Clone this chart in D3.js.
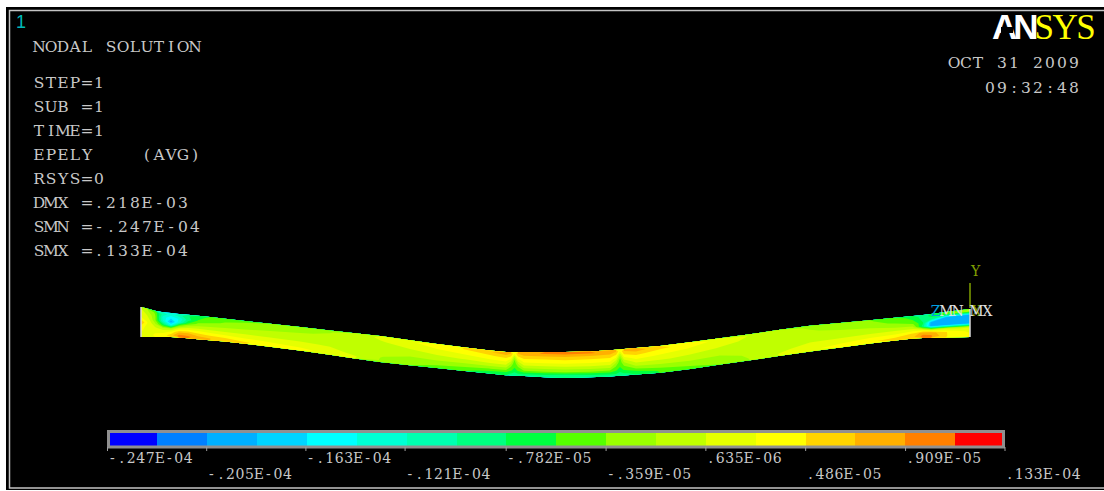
<!DOCTYPE html>
<html>
<head>
<meta charset="utf-8">
<script src="https://cdn.jsdelivr.net/npm/d3@7"></script>
<style>
  html, body { margin: 0; padding: 0; background: #fff; }
  svg { display: block; }
  text { white-space: pre; font-family: "DejaVu Serif", serif; }
</style>
</head>
<body>
<div id="chart"></div>
<script>
// legend values, in strain
var tickValues = [-.247e-4, -.205e-4, -.163e-4, -.121e-4, -.782e-5, -.359e-5, .635e-6, .486e-5, .909e-5, .133e-4];
var tickLabels = ["-.247E-04", "-.205E-04", "-.163E-04", "-.121E-04", "-.782E-05", "-.359E-05", ".635E-06", ".486E-05", ".909E-05", ".133E-04"];
var bandColors = ["#0000ff", "#0080ff", "#00b0ff", "#00d4ff", "#00ffff", "#00ffd4", "#00ffb0", "#00ff80", "#00ff40",
                  "#55ff00", "#9aff00", "#c0ff00", "#e6ff00", "#ffff00", "#ffd400", "#ffb000", "#ff8000", "#ff0000"];

var infoLines = ["STEP=1", "SUB =1", "TIME=1", "EPELY    (AVG)", "RSYS=0", "DMX =.218E-03", "SMN =-.247E-04", "SMX =.133E-04"];

// beam outline, model units along the span and above the left support
var topX = [0, 19, 59, 122, 179, 239, 296, 362, 429, 462, 529, 596, 666, 732, 782, 829];
var topY = [30, 25, 21, 14, 7.7, 1, -7, -15, -15, -14, -8, 1, 11, 17, 22, 28];
var botX = [0, 32, 89, 156, 239, 296, 362, 419, 462, 529, 596, 666, 732, 776, 829];
var botY = [0, 0, -5, -13, -25, -31, -38, -41, -40, -35, -25, -15, -6, -1, 0];

// strain (E-05) read at each station, top fibre to bottom fibre
var stations = [0, 6, 14, 22, 30, 38, 47, 57, 69, 84, 104, 129, 159, 189, 214, 239, 269, 296, 324, 349, 365,
                370, 373.5, 377, 383, 404, 424, 449, 469, 475, 479, 483, 495, 519, 549, 579, 609, 639, 669, 699,
                729, 754, 772, 782, 790, 805, 819, 829];
var strain = [
  [.1, .2, .3, .75, .4, .3, .2],
  [-.1, .05, .2, .3, .2, .2, .2],
  [-.4, -.3, -.3, -.1, .1, .25, .3],
  [-1.1, -1.3, -1.2, -.7, -.1, .2, .4],
  [-1.3, -1.6, -1.95, -1.4, -.2, .3, .6],
  [-1.1, -1.4, -1.3, -.4, .2, .7, 1.0],
  [-.8, -.9, -.6, -.1, .3, .7, .95],
  [-.65, -.55, -.3, -.05, .25, .55, .8],
  [-.5, -.42, -.25, -.05, .2, .45, .7],
  [-.42, -.33, -.2, -.05, .15, .38, .62],
  [-.36, -.28, -.16, -.03, .13, .3, .5],
  [-.3, -.22, -.12, -.02, .1, .26, .42],
  [-.24, -.17, -.09, -.02, .08, .2, .32],
  [-.16, -.12, -.06, 0, .05, .12, .22],
  [-.06, -.05, -.05, -.05, -.03, 0, .08],
  [.1, .04, 0, -.05, -.1, -.14, -.16],
  [.25, .15, .06, -.05, -.14, -.22, -.3],
  [.36, .27, .15, .03, -.1, -.25, -.4],
  [.5, .36, .22, .07, -.1, -.3, -.5],
  [.68, .46, .3, .12, -.1, -.36, -.65],
  [.8, .55, .36, .15, -.1, -.38, -.75],
  [.7, .45, .15, -.15, -.38, -.55, -.8],
  [.3, -.1, -.4, -.5, -.55, -.65, -.9],
  [.7, .45, .15, -.15, -.38, -.55, -.8],
  [.85, .6, .38, .18, -.08, -.38, -.8],
  [.93, .62, .4, .2, -.08, -.36, -.85],
  [.97, .64, .42, .2, -.08, -.36, -.98],
  [.93, .62, .4, .2, -.08, -.36, -.85],
  [.85, .6, .38, .18, -.08, -.38, -.8],
  [.7, .45, .15, -.15, -.38, -.55, -.8],
  [.3, -.1, -.4, -.5, -.55, -.65, -.9],
  [.7, .45, .15, -.15, -.38, -.55, -.8],
  [.8, .55, .36, .15, -.1, -.38, -.75],
  [.55, .38, .24, .08, -.1, -.32, -.55],
  [.36, .27, .15, .03, -.1, -.25, -.4],
  [.22, .13, .05, -.05, -.14, -.22, -.3],
  [.05, .02, 0, -.05, -.08, -.12, -.14],
  [-.08, -.06, -.05, -.03, 0, .02, .08],
  [-.17, -.13, -.06, 0, .06, .14, .24],
  [-.26, -.19, -.1, -.02, .08, .22, .34],
  [-.34, -.26, -.14, -.03, .12, .3, .46],
  [-.46, -.4, -.26, -.05, .15, .35, .55],
  [-.65, -.55, -.35, -.1, .2, .5, .65],
  [-.9, -.85, -.75, -.9, .1, .8, 1.0],
  [-.7, -.9, -1.9, -1.95, -.2, .8, .95],
  [-.5, -1.9, -1.95, -1.95, 0, .5, .5],
  [-.2, -1.95, -1.95, -1.95, 0, .3, .35],
  [-.1, -1.95, -1.95, -1.95, .05, .25, .3]
];

var width = 1104,
    height = 491;

var svg = d3.select("#chart").append("svg")
    .attr("width", width)
    .attr("height", height);

// black graphics window, the grey border runs off the right side
svg.append("rect").attr("x", 6).attr("y", 7).attr("width", 1098).attr("height", 483).attr("fill", "#000");
svg.append("path").attr("d", "M1104,10.5H9.5V488H1104")
    .attr("fill", "none").attr("stroke", "#c4c4c4").attr("stroke-width", 1.5);

// beam scales
var x = d3.scaleLinear().domain([0, 829]).range([141, 970]);
var y = d3.scaleLinear().domain([30, -41]).range([307, 378]);
var topEdge = d3.scaleLinear().domain(topX).range(topY);
var botEdge = d3.scaleLinear().domain(botX).range(botY);

// d3.contours grid: value i sits at i + 0.5, the outer half cell runs to the edge
var dx = stations.length,
    dy = strain[0].length;
var gridX = d3.scaleLinear()
    .domain([0].concat(stations.map(function(d, i) { return i + 0.5; }), [dx]))
    .range([stations[0]].concat(stations, [stations[dx - 1]]));

function project(p) {
  var sx = gridX(p[0]);
  var t = topEdge(sx), b = botEdge(sx);
  return [x(sx), y(t + (b - t) * p[1] / dy)];
}

// band limits are evenly spaced between the end labels
var bandIndex = d3.scaleLinear().domain([0, bandColors.length]).range([tickValues[0], tickValues[9]]);
var thresholds = bandColors.map(function(d, i) { return bandIndex(i) * 1e5; });

var grid = [];
for (var j = 0; j < dy; j++) {
  for (var i = 0; i < dx; i++) grid.push(strain[i][j]);
}

var contours = d3.contours().size([dx, dy]).thresholds(thresholds)(grid);
var shapeLine = d3.line();

function ringsPath(geometry) {
  return geometry.coordinates.map(function(poly) {
    return poly.map(function(ring) { return shapeLine(ring.map(project)) + "Z"; }).join("");
  }).join("");
}

var beam = svg.append("g");
beam.selectAll("path")
    .data(contours)
    .enter().append("path")
    .attr("d", ringsPath)
    .attr("fill", function(d, i) { return bandColors[i]; })
    .attr("fill-rule", "evenodd");

// end faces
svg.selectAll(".endface")
    .data([0, 829])
    .enter().append("line")
    .attr("class", "endface")
    .attr("x1", function(d) { return x(d); })
    .attr("x2", function(d) { return x(d); })
    .attr("y1", function(d) { return y(topEdge(d)); })
    .attr("y2", function(d) { return y(botEdge(d)); })
    .attr("stroke", "#d8d8d8")
    .attr("stroke-width", 1.5);

// triad
svg.append("line").attr("x1", 970).attr("x2", 970).attr("y1", 283).attr("y2", 308)
    .attr("stroke", "#80a000").attr("stroke-width", 1.5);

// ANSYS annotation text sits on a fixed character cell
function cellX(txt, px, cell) {
  return d3.range(txt.length).map(function(i) { return px + cell * (i + 0.5); }).join(" ");
}

function label(txt, px, py, size, cell, color) {
  return svg.append("text")
      .attr("x", cellX(txt, px, cell)).attr("y", py)
      .attr("text-anchor", "middle")
      .attr("font-size", size)
      .attr("fill", color)
      .text(txt);
}

label("Y", 970, 276, 14, 11, "#80a000");
label("X", 971, 316, 14, 11, "#80a000");
label("Z", 930, 316, 14, 11, "#00a0e0");
label("MN", 941, 316, 14, 11, "#e0e0e0");
label("MX", 971, 316, 14, 11, "#e0e0e0");

// header texts
var textColor = "#c8c8c8";
svg.append("text").attr("x", 16).attr("y", 28).attr("font-size", 18)
    .style("font-family", "'Liberation Sans'").attr("fill", "#00b8b8").text("1");
label("NODAL SOLUTION", 33, 52, 15.5, 12, textColor);
infoLines.forEach(function(d, i) {
  label(d, 33, 88 + i * 24, 15.5, 12, textColor);
});
label("OCT 31 2009", 948, 68, 15.5, 12, textColor);
label("09:32:48", 984, 93, 15.5, 12, textColor);

// logo
var logo = svg.append("text").attr("x", 992).attr("y", 39);
logo.append("tspan").text("AN")
    .style("font-family", "'Liberation Sans'").attr("font-weight", "bold")
    .attr("font-size", 35).attr("letter-spacing", -4).attr("fill", "#fff");
logo.append("tspan").text("SYS")
    .style("font-family", "'Liberation Serif'")
    .attr("font-size", 35).attr("letter-spacing", -1.5).attr("fill", "#ffff00");
// the logo A has no crossbar
svg.append("rect").attr("x", 1001).attr("y", 27).attr("width", 12).attr("height", 6).attr("fill", "#000");

// contour legend
var legendX = d3.scaleLinear().domain([tickValues[0], tickValues[9]]).range([107.5, 1005]);
var legend = svg.append("g");
legend.selectAll("rect")
    .data(bandColors)
    .enter().append("rect")
    .attr("x", function(d, i) { return legendX(bandIndex(i)); })
    .attr("y", 431)
    .attr("width", function(d, i) { return legendX(bandIndex(i + 1)) - legendX(bandIndex(i)); })
    .attr("height", 16)
    .attr("fill", function(d) { return d; })
    .attr("shape-rendering", "crispEdges");
legend.append("rect").attr("x", 108.5).attr("y", 431.5).attr("width", 895).attr("height", 15.5)
    .attr("fill", "none").attr("stroke", "#909090").attr("stroke-width", 3);
legend.selectAll(".tick")
    .data(tickValues)
    .enter().append("line")
    .attr("class", "tick")
    .attr("x1", function(d) { return legendX(d); })
    .attr("x2", function(d) { return legendX(d); })
    .attr("y1", 447)
    .attr("y2", 451)
    .attr("stroke", "#a0a0a0");
tickLabels.forEach(function(d, i) {
  label(d, legendX(tickValues[i]), i % 2 ? 479 : 463, 14, 9.5, textColor);
});
</script>
</body>
</html>
